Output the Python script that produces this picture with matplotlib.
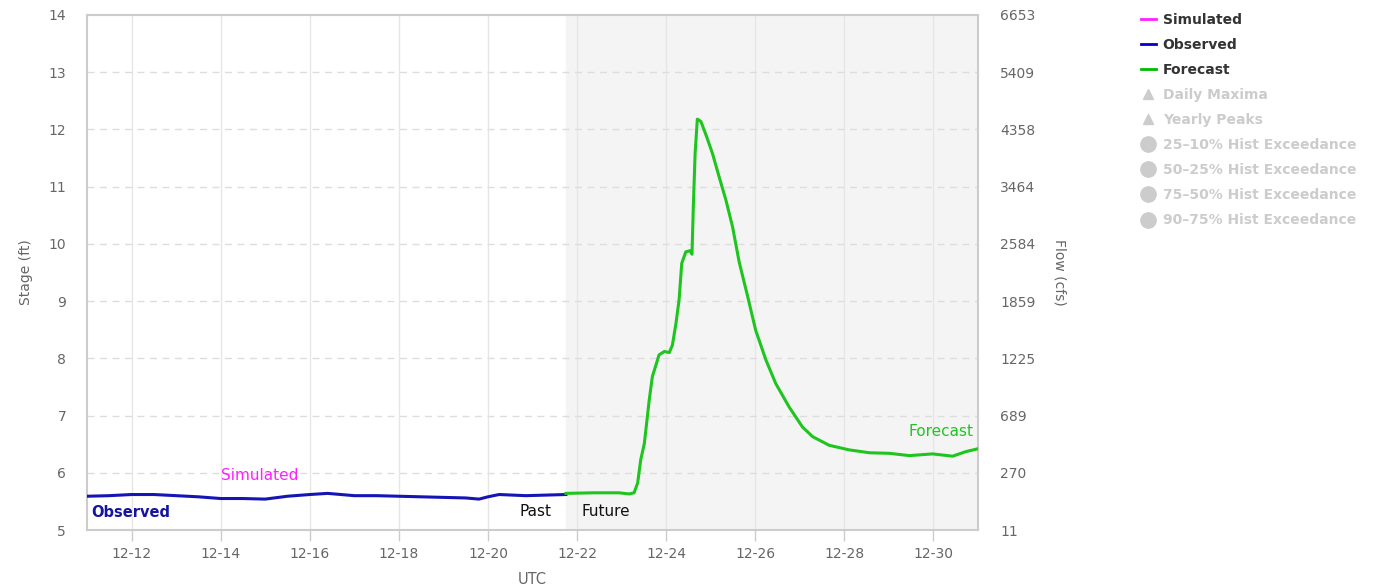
import numpy as np
import matplotlib.pyplot as plt
import matplotlib.dates as mdates
from matplotlib.lines import Line2D
from datetime import datetime, timedelta

obs_day = [11.0, 11.5, 12.0, 12.5, 13.0, 13.5, 14.0, 14.5, 15.0, 15.5, 16.0, 16.4,
           17.0, 17.5, 18.0, 18.5, 19.0, 19.5, 19.8, 20.0, 20.25, 20.85, 21.3, 21.75]
obs_stage = [5.59, 5.60, 5.62, 5.62, 5.60, 5.58, 5.55, 5.55, 5.54, 5.59, 5.62, 5.64,
             5.60, 5.60, 5.59, 5.58, 5.57, 5.56, 5.54, 5.58, 5.62, 5.60, 5.61, 5.62]

fc_day = [21.75, 22.36, 22.94, 23.17, 23.28, 23.36, 23.43, 23.51, 23.62, 23.69,
          23.77, 23.84, 23.96, 24.07, 24.14, 24.22, 24.29, 24.35, 24.44, 24.53,
          24.58, 24.61, 24.65, 24.70, 24.78, 24.91, 25.04, 25.19, 25.34, 25.49,
          25.64, 25.83, 26.01, 26.24, 26.46, 26.76, 27.06, 27.29, 27.66, 28.11,
          28.56, 29.01, 29.46, 29.98, 30.43, 30.73, 31.0]
fc_stage = [5.64, 5.65, 5.65, 5.63, 5.65, 5.82, 6.23, 6.51, 7.27, 7.68,
            7.88, 8.06, 8.12, 8.10, 8.23, 8.61, 9.02, 9.66, 9.86, 9.88,
            9.82, 10.65, 11.58, 12.18, 12.14, 11.87, 11.58, 11.17, 10.77, 10.30,
            9.68, 9.08, 8.49, 7.97, 7.56, 7.15, 6.80, 6.63, 6.48, 6.40,
            6.35, 6.34, 6.30, 6.33, 6.29, 6.37, 6.42]

stage_ticks = [5, 6, 7, 8, 9, 10, 11, 12, 13, 14]
flow_labels = ["11", "270", "689", "1225", "1859", "2584", "3464", "4358", "5409", "6653"]
date_ticks = [12, 14, 16, 18, 20, 22, 24, 26, 28, 30]

legend_names = ["Simulated", "Observed", "Forecast", "Daily Maxima", "Yearly Peaks",
                "25\u201310% Hist Exceedance", "50\u201325% Hist Exceedance",
                "75\u201350% Hist Exceedance", "90\u201375% Hist Exceedance"]


def to_dt(d):
    return datetime(2024, 12, 1) + timedelta(days=d - 1)


OBS_C = "#1515b5"
FC_C = "#1ec51e"
SIM_C = "#ff20ff"
TICK_C = "#666666"

fig = plt.figure(figsize=(13.76, 5.86), dpi=100)
ax = fig.add_axes([87 / 1376, 56 / 586, 891 / 1376, 515 / 586])

t_start, t_end, t_now = to_dt(11.0), to_dt(31.0), to_dt(21.75)
ax.axvspan(t_now, t_end, color="#f4f4f4", zorder=0)

ax.plot([to_dt(d) for d in obs_day], obs_stage, color=OBS_C, lw=2.2, zorder=3)
ax.plot([to_dt(d) for d in fc_day], fc_stage, color=FC_C, lw=2.2, zorder=3)

ax.set_xlim(t_start, t_end)
ax.set_ylim(5, 14)
ax.set_yticks(stage_ticks)
ax.set_xticks([to_dt(d) for d in date_ticks])
ax.xaxis.set_major_formatter(mdates.DateFormatter("%m-%d"))

# grid: solid verticals, dashed horizontals
for d in date_ticks:
    ax.axvline(to_dt(d), color="#e6e6e6", lw=1, zorder=1)
for s in stage_ticks[1:-1]:
    ax.axhline(s, color="#dddddd", lw=1, ls=(0, (5, 4)), zorder=1)

for sp in ax.spines.values():
    sp.set_color("#cccccc")
    sp.set_linewidth(1.5)

ax.tick_params(axis="y", length=0, pad=15, labelsize=10, colors=TICK_C)
ax.tick_params(axis="x", length=8, width=1, color="#cccccc", pad=4, labelsize=10,
               labelcolor=TICK_C)

ax.set_ylabel("Stage (ft)", fontsize=10, color=TICK_C, labelpad=11)
ax.set_xlabel("UTC", fontsize=10.5, color=TICK_C, labelpad=8)

ax2 = ax.twinx()
ax2.set_ylim(5, 14)
ax2.set_yticks(stage_ticks)
ax2.set_yticklabels(flow_labels)
ax2.tick_params(axis="y", length=0, pad=16, labelsize=10, colors=TICK_C)
for sp in ax2.spines.values():
    sp.set_visible(False)
ax2.set_ylabel("Flow (cfs)", fontsize=10, color=TICK_C, rotation=270, labelpad=22)

# annotations
ax.text(to_dt(11.1), 5.3, "Observed", color="#1515a0", fontsize=10.5, fontweight="bold",
        ha="left", va="center")
ax.text(to_dt(14.0), 5.95, "Simulated", color=SIM_C, fontsize=11, ha="left", va="center")
ax.text(to_dt(21.42), 5.32, "Past", color="#111111", fontsize=11, ha="right", va="center")
ax.text(to_dt(22.1), 5.32, "Future", color="#111111", fontsize=11, ha="left", va="center")
ax.text(to_dt(30.9), 6.72, "Forecast", color=FC_C, fontsize=11, ha="right", va="center")

# legend
handles = [Line2D([], [], color=SIM_C, lw=2), Line2D([], [], color="#0000cc", lw=2),
           Line2D([], [], color="#00bb00", lw=2)]
handles += [Line2D([], [], ls="none", marker="^", color="#cccccc", ms=7)] * 2
handles += [Line2D([], [], ls="none", marker="o", color="#cccccc", ms=11)] * 4
leg = fig.legend(handles, legend_names, loc="upper left",
                 bbox_to_anchor=(1128 / 1376, 1 - 0 / 586), frameon=False,
                 handlelength=1.1, handletextpad=0.5, labelspacing=0.8,
                 prop={"size": 10, "weight": "bold"})
for i, txt in enumerate(leg.get_texts()):
    txt.set_color("#333333" if i < 3 else "#cccccc")

plt.savefig("out.png", dpi=100)
